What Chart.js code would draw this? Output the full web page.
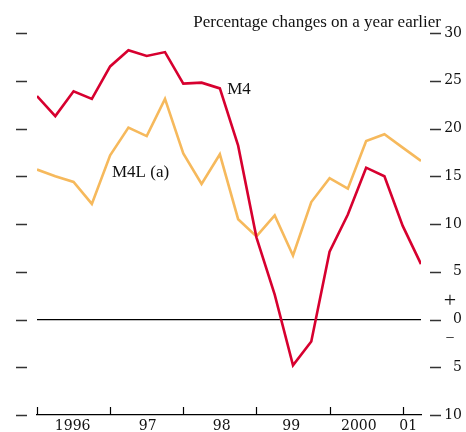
<!DOCTYPE html>
<html>
<head>
<meta charset="utf-8">
<script src="https://cdn.jsdelivr.net/npm/chart.js@4/dist/chart.umd.min.js"></script>
<style>
  html, body { margin: 0; padding: 0; background: #fff; }
  #wrap { width: 466px; height: 432px; position: relative; }
</style>
</head>
<body>
<div id="wrap"><canvas id="chart"></canvas></div>
<script>
// quarterly, 1996 Q1 .. 2001 Q2
const quarters = [
  '1996 Q1', '1996 Q2', '1996 Q3', '1996 Q4',
  '1997 Q1', '1997 Q2', '1997 Q3', '1997 Q4',
  '1998 Q1', '1998 Q2', '1998 Q3', '1998 Q4',
  '1999 Q1', '1999 Q2', '1999 Q3', '1999 Q4',
  '2000 Q1', '2000 Q2', '2000 Q3', '2000 Q4',
  '2001 Q1', '2001 Q2'
];
const m4 = [23.4, 21.3, 23.9, 23.1, 26.5, 28.2, 27.6, 28.0, 24.7, 24.8, 24.2, 18.2,
            8.6, 2.6, -4.8, -2.3, 7.1, 11.0, 15.9, 15.0, 9.8, 5.8];
const m4l = [15.7, 15.0, 14.4, 12.1, 17.2, 20.1, 19.2, 23.1, 17.4, 14.2, 17.3, 10.5,
             8.7, 10.9, 6.7, 12.3, 14.8, 13.7, 18.7, 19.4, 18.0, 16.6];
const yearLabels = ['1996', '97', '98', '99', '2000', '01'];
const yearLabelAt = [1.95, 6.05, 10.1, 13.9, 17.6, 20.3];
const yearStarts = [0, 4, 8, 12, 16, 20];

const RED = '#d7002f';
const ORANGE = '#f6b95c';
const SERIF = '"Liberation Serif", "DejaVu Serif", serif';
const NUMS = '"DejaVu Serif", "Liberation Serif", serif';

const extras = {
  id: 'extras',
  afterDraw(chart) {
    const ctx = chart.ctx;
    const x = chart.scales.x, y = chart.scales.y;
    const area = chart.chartArea;
    ctx.save();
    // short dashes either side of the plot
    ctx.strokeStyle = '#333';
    ctx.lineWidth = 1.5;
    for (let v = -10; v <= 30; v += 5) {
      const py = Math.round(y.getPixelForValue(v)) + 0.5;
      ctx.beginPath();
      ctx.moveTo(16, py); ctx.lineTo(27, py);
      ctx.moveTo(430, py); ctx.lineTo(441, py);
      ctx.stroke();
    }
    // year ticks on the bottom axis, pointing up
    ctx.strokeStyle = '#000';
    ctx.lineWidth = 1.2;
    yearStarts.forEach(v => {
      const px = Math.round(x.getPixelForValue(v)) + 0.5;
      ctx.beginPath();
      ctx.moveTo(px, area.bottom); ctx.lineTo(px, area.bottom - 8);
      ctx.stroke();
    });
    ctx.fillStyle = '#111';
    ctx.textBaseline = 'middle';
    ctx.textAlign = 'center';
    // + and - around the zero line
    const p0 = y.getPixelForValue(0);
    ctx.font = '22px ' + SERIF;
    ctx.fillText('+', 450, p0 - 18);
    ctx.font = '16px ' + SERIF;
    ctx.fillText('\u2212', 450, p0 + 19);
    // series labels
    ctx.font = '17px ' + SERIF;
    ctx.textAlign = 'left';
    ctx.fillText('M4', x.getPixelForValue(10.4), y.getPixelForValue(24.1));
    ctx.fillText('M4L (a)', x.getPixelForValue(4.1), y.getPixelForValue(15.4));
    // units note
    ctx.textAlign = 'right';
    ctx.textBaseline = 'alphabetic';
    ctx.fillText('Percentage changes on a year earlier', 441, 27);
    ctx.restore();
  }
};

new Chart(document.getElementById('chart'), {
  type: 'line',
  data: {
    datasets: [
      {
        label: 'M4',
        data: m4.map((v, i) => ({ x: i, y: v })),
        borderColor: RED,
        borderWidth: 2.6,
        pointRadius: 0,
        tension: 0
      },
      {
        label: 'M4L (a)',
        data: m4l.map((v, i) => ({ x: i, y: v })),
        borderColor: ORANGE,
        borderWidth: 2.6,
        pointRadius: 0,
        tension: 0
      }
    ]
  },
  options: {
    responsive: true,
    maintainAspectRatio: false,
    animation: false,
    layout: { padding: { left: 37, right: 4, top: 33, bottom: 0 } },
    plugins: {
      legend: { display: false },
      tooltip: { enabled: false }
    },
    scales: {
      x: {
        type: 'linear',
        min: 0,
        max: quarters.length - 1,
        afterBuildTicks: (s) => { s.ticks = yearLabelAt.map(v => ({ value: v })); },
        afterFit: (s) => { s.height = 17; },
        border: { display: true, color: '#000', width: 1.2 },
        grid: { display: false, drawTicks: false },
        ticks: {
          autoSkip: false,
          maxRotation: 0,
          padding: 3,
          color: '#111',
          font: { family: NUMS, size: 14 },
          callback: (v, i) => yearLabels[i]
        }
      },
      y: {
        position: 'right',
        min: -10,
        max: 30,
        afterFit: (s) => { s.width = 41; },
        border: { display: false },
        grid: {
          drawTicks: false,
          color: (c) => (c.tick && c.tick.value === 0 ? '#000' : 'rgba(0,0,0,0)'),
          lineWidth: 1.2
        },
        ticks: {
          stepSize: 5,
          crossAlign: 'far',
          padding: 0,
          color: '#111',
          font: { family: NUMS, size: 14 },
          callback: (v) => String(Math.abs(v))
        }
      }
    }
  },
  plugins: [extras]
});
</script>
</body>
</html>
